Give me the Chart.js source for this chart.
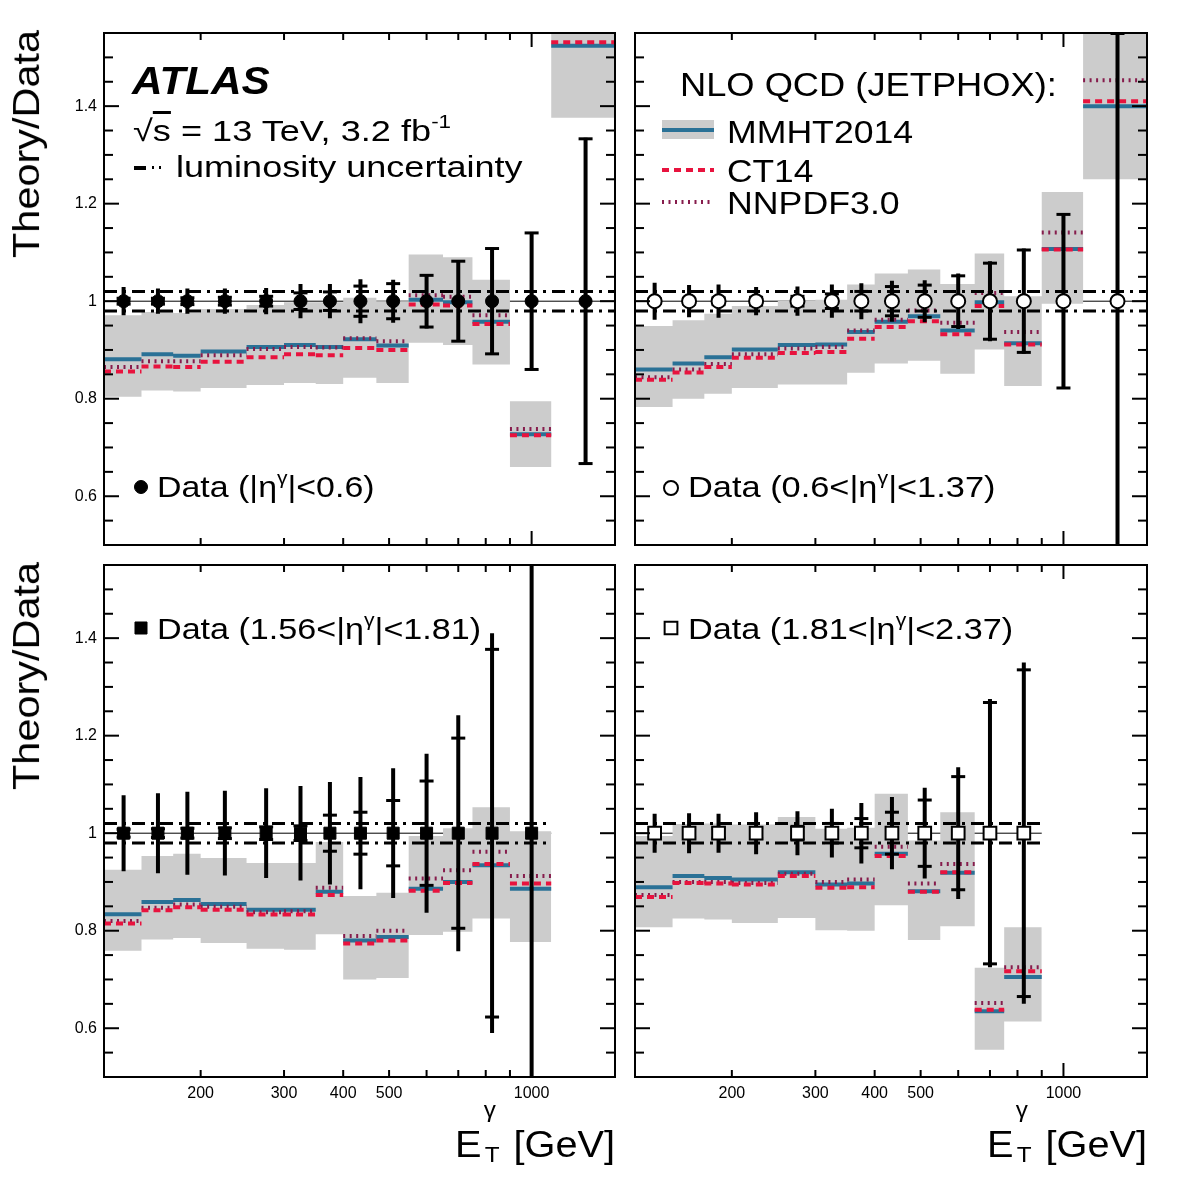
<!DOCTYPE html>
<html>
<head>
<meta charset="utf-8">
<script src="https://cdn.jsdelivr.net/npm/chart.js@4.4.1/dist/chart.umd.min.js"></script>
<style>
  body { margin: 0; background: #fff; }
  #wrap { position: relative; width: 1182px; height: 1182px; overflow: hidden;
          font-family: 'Liberation Sans', Arial, Helvetica, sans-serif; }
  canvas { position: absolute; left: 0; top: 0; }
  .t { position: absolute; white-space: nowrap; line-height: 1; color: #000; }
  .sup { position: relative; top: -0.7em; font-size: 0.62em; }
</style>
</head>
<body>
<div id="wrap"></div>
<script>
// bin edges / centres in E_T (GeV)
const etEdges = [125, 150, 175, 200, 250, 300, 350, 400, 470, 550, 650, 750, 900, 1100, 1500];
const etCenters = [137.5, 162.5, 187.5, 225, 275, 325, 375, 435, 510, 600, 700, 825, 1000, 1300];
const unity = 1;
const lumiLevels = [1.02, 0.98];

const yLabelTicks = [0.6, 0.8, 1, 1.2, 1.4];
const yMinorTicks = [0.55, 0.65, 0.7, 0.75, 0.85, 0.9, 0.95, 1.05, 1.1, 1.15, 1.25, 1.3, 1.35, 1.45, 1.5];
const xLabelTicks = [200, 300, 400, 500, 1000];
const xMinorTicks = [200, 300, 400, 500, 600, 700, 800, 900];
const xMajorTicks = [1000];

// |eta| < 0.6
const p1Mmht   = [0.881, 0.891, 0.888, 0.897, 0.906, 0.910, 0.906, 0.922, 0.909, 1.003, 0.998, 0.958, 0.727, 1.524];
const p1Ct14   = [0.856, 0.866, 0.865, 0.876, 0.885, 0.891, 0.889, 0.904, 0.900, 0.993, 0.991, 0.953, 0.725, 1.531];
const p1Nnpdf  = [0.865, 0.877, 0.877, 0.889, 0.902, 0.906, 0.905, 0.924, 0.918, 1.012, 1.009, 0.971, 0.738, 1.580];
const p1BandLo = [0.804, 0.817, 0.815, 0.822, 0.828, 0.832, 0.830, 0.843, 0.832, 0.915, 0.910, 0.870, 0.660, 1.376];
const p1BandHi = [0.971, 0.978, 0.976, 0.984, 0.992, 0.998, 0.998, 1.007, 1.000, 1.096, 1.090, 1.044, 0.795, 1.680];
const p1Stat   = [0.006, 0.006, 0.007, 0.008, 0.010, 0.017, 0.019, 0.031, 0.036, 0.053, 0.082, 0.108, 0.140, 0.333];
const p1Tot    = [0.029, 0.026, 0.026, 0.026, 0.027, 0.035, 0.035, 0.045, 0.044, 0.056, 0.083, 0.110, 0.142, 0.335];

// 0.6 < |eta| < 1.37
const p2Mmht   = [0.860, 0.872, 0.885, 0.901, 0.910, 0.911, 0.937, 0.958, 0.969, 0.940, 0.998, 0.914, 1.107, 1.400];
const p2Ct14   = [0.839, 0.854, 0.865, 0.884, 0.894, 0.896, 0.923, 0.947, 0.959, 0.932, 0.990, 0.911, 1.106, 1.410];
const p2Nnpdf  = [0.844, 0.860, 0.871, 0.891, 0.903, 0.906, 0.940, 0.962, 0.981, 0.956, 1.017, 0.937, 1.141, 1.453];
const p2BandLo = [0.783, 0.800, 0.810, 0.822, 0.829, 0.829, 0.853, 0.872, 0.878, 0.851, 0.901, 0.826, 0.995, 1.250];
const p2BandHi = [0.949, 0.961, 0.974, 0.990, 1.001, 1.003, 1.034, 1.057, 1.065, 1.035, 1.098, 1.010, 1.224, 1.600];
const p2Stat   = [0.005, 0.006, 0.007, 0.008, 0.010, 0.015, 0.020, 0.030, 0.033, 0.052, 0.078, 0.105, 0.178, 0.549];
const p2Tot    = [0.038, 0.033, 0.034, 0.029, 0.030, 0.034, 0.037, 0.042, 0.043, 0.057, 0.082, 0.108, 0.180, 0.600];

// 1.56 < |eta| < 1.81
const p3Mmht   = [0.834, 0.859, 0.863, 0.855, 0.843, 0.843, 0.880, 0.780, 0.787, 0.886, 0.900, 0.934, 0.886];
const p3Ct14   = [0.815, 0.842, 0.848, 0.843, 0.833, 0.833, 0.873, 0.774, 0.780, 0.882, 0.898, 0.937, 0.897];
const p3Nnpdf  = [0.820, 0.847, 0.854, 0.849, 0.838, 0.840, 0.888, 0.789, 0.800, 0.907, 0.924, 0.962, 0.912];
const p3BandLo = [0.759, 0.782, 0.785, 0.775, 0.763, 0.761, 0.793, 0.700, 0.703, 0.791, 0.798, 0.825, 0.777];
const p3BandHi = [0.925, 0.953, 0.958, 0.949, 0.939, 0.939, 0.982, 0.871, 0.878, 0.994, 1.010, 1.053, 1.004];
const p3Stat   = [0.008, 0.009, 0.010, 0.011, 0.013, 0.015, 0.037, 0.043, 0.067, 0.107, 0.195, 0.377, 0.600];
const p3Tot    = [0.078, 0.082, 0.085, 0.087, 0.092, 0.097, 0.105, 0.115, 0.133, 0.163, 0.242, 0.410, 0.650];

// 1.81 < |eta| < 2.37
const p4Mmht   = [0.889, 0.912, 0.908, 0.905, 0.920, 0.895, 0.897, 0.958, 0.881, 0.919, 0.635, 0.705];
const p4Ct14   = [0.869, 0.898, 0.897, 0.895, 0.912, 0.888, 0.889, 0.953, 0.880, 0.920, 0.638, 0.717];
const p4Nnpdf  = [0.873, 0.900, 0.900, 0.898, 0.917, 0.900, 0.905, 0.972, 0.897, 0.937, 0.652, 0.725];
const p4BandLo = [0.807, 0.825, 0.823, 0.816, 0.826, 0.801, 0.800, 0.852, 0.781, 0.809, 0.556, 0.614];
const p4BandHi = [0.994, 1.019, 1.020, 1.018, 1.033, 1.009, 1.011, 1.081, 0.985, 1.043, 0.724, 0.807];
const p4Stat   = [0.008, 0.009, 0.010, 0.011, 0.014, 0.020, 0.030, 0.043, 0.068, 0.116, 0.268, 0.335];
const p4Tot    = [0.040, 0.041, 0.040, 0.043, 0.045, 0.050, 0.062, 0.074, 0.093, 0.135, 0.275, 0.350];

const BLUE = '#2a7196';
const RED = '#e8133e';
const MAROON = '#861c4c';
const GREY = '#cccccc';
const FONT = "'Liberation Sans', Arial, Helvetica, sans-serif";

const markerStyles = {
  filledCircle: { pointStyle: 'circle', radius: 6.5, bg: '#000', bw: 1 },
  openCircle:   { pointStyle: 'circle', radius: 7, bg: '#fff', bw: 2 },
  filledSquare: { pointStyle: 'rect', radius: 8.5, bg: '#000', bw: 1 },
  openSquare:   { pointStyle: 'rect', radius: 9, bg: '#fff', bw: 2 }
};

function drawMarker(ctx, name, x, y) {
  const m = markerStyles[name];
  ctx.save();
  ctx.fillStyle = m.bg;
  ctx.strokeStyle = '#000';
  ctx.lineWidth = m.bw;
  Chart.helpers.drawPoint(ctx, { pointStyle: m.pointStyle, radius: m.radius, borderWidth: m.bw, rotation: 0 }, x, y);
  ctx.restore();
}

function hline(ctx, x1, x2, y, color, width, dash) {
  ctx.save();
  ctx.strokeStyle = color;
  ctx.lineWidth = width;
  ctx.setLineDash(dash || []);
  ctx.beginPath();
  ctx.moveTo(x1, y);
  ctx.lineTo(x2, y);
  ctx.stroke();
  ctx.restore();
}

const panels = [
  { mmht: p1Mmht, ct14: p1Ct14, nnpdf: p1Nnpdf, lo: p1BandLo, hi: p1BandHi, stat: p1Stat, tot: p1Tot,
    marker: 'filledCircle', box: { l: 104, r: 615, t: 33, b: 545 }, yLabels: true, xLabels: false,
    notes(ctx) {
      hline(ctx, 134, 146, 168, '#000', 4);
      ctx.fillStyle = '#000';
      ctx.fillRect(152, 166, 2, 3);
      ctx.fillRect(159, 166, 2, 3);
      drawMarker(ctx, 'filledCircle', 141, 487);
    } },
  { mmht: p2Mmht, ct14: p2Ct14, nnpdf: p2Nnpdf, lo: p2BandLo, hi: p2BandHi, stat: p2Stat, tot: p2Tot,
    marker: 'openCircle', box: { l: 635, r: 1147, t: 33, b: 545 }, yLabels: false, xLabels: false,
    notes(ctx) {
      ctx.fillStyle = GREY;
      ctx.fillRect(662, 120, 52, 19);
      hline(ctx, 662, 714, 130, BLUE, 4);
      hline(ctx, 662, 714, 170, RED, 4, [7, 5]);
      hline(ctx, 662, 714, 202, MAROON, 4, [2, 4.5]);
      drawMarker(ctx, 'openCircle', 671, 488);
    } },
  { mmht: p3Mmht, ct14: p3Ct14, nnpdf: p3Nnpdf, lo: p3BandLo, hi: p3BandHi, stat: p3Stat, tot: p3Tot,
    marker: 'filledSquare', box: { l: 104, r: 615, t: 565, b: 1077 }, yLabels: true, xLabels: true,
    notes(ctx) { drawMarker(ctx, 'filledSquare', 141, 628); } },
  { mmht: p4Mmht, ct14: p4Ct14, nnpdf: p4Nnpdf, lo: p4BandLo, hi: p4BandHi, stat: p4Stat, tot: p4Tot,
    marker: 'openSquare', box: { l: 635, r: 1147, t: 565, b: 1077 }, yLabels: false, xLabels: true,
    notes(ctx) { drawMarker(ctx, 'openSquare', 671, 628); } }
];

// horizontal theory segments, one per bin, broken between bins
function binSegments(vals) {
  const pts = [];
  vals.forEach((v, i) => {
    pts.push({ x: etEdges[i], y: v }, { x: etEdges[i + 1], y: v }, { x: etEdges[i + 1], y: null });
  });
  return pts;
}

// stepped outline of the uncertainty band
function binSteps(vals) {
  const pts = vals.map((v, i) => ({ x: etEdges[i], y: v }));
  pts.push({ x: etEdges[vals.length], y: vals[vals.length - 1] });
  return pts;
}

function errorBars(tot) {
  const pts = [];
  tot.forEach((e, i) => {
    pts.push({ x: etCenters[i], y: unity - e }, { x: etCenters[i], y: unity + e }, { x: etCenters[i], y: null });
  });
  return pts;
}

function statCaps(stat) {
  const pts = [];
  stat.forEach((e, i) => pts.push({ x: etCenters[i], y: unity - e }, { x: etCenters[i], y: unity + e }));
  return pts;
}

const framePlugin = {
  id: 'frame',
  afterDraw(chart) {
    const { ctx, chartArea: a, scales: { x, y } } = chart;
    ctx.save();
    ctx.strokeStyle = '#000';
    ctx.lineWidth = 2;
    const tick = (x1, y1, x2, y2) => { ctx.beginPath(); ctx.moveTo(x1, y1); ctx.lineTo(x2, y2); ctx.stroke(); };
    yLabelTicks.forEach(v => { const p = y.getPixelForValue(v); tick(a.left, p, a.left + 15, p); tick(a.right, p, a.right - 15, p); });
    yMinorTicks.forEach(v => { const p = y.getPixelForValue(v); tick(a.left, p, a.left + 9, p); tick(a.right, p, a.right - 9, p); });
    xMinorTicks.forEach(v => { const p = x.getPixelForValue(v); tick(p, a.top, p, a.top + 7); tick(p, a.bottom, p, a.bottom - 7); });
    xMajorTicks.forEach(v => { const p = x.getPixelForValue(v); tick(p, a.top, p, a.top + 14); tick(p, a.bottom, p, a.bottom - 14); });
    ctx.strokeRect(a.left, a.top, a.right - a.left, a.bottom - a.top);
    ctx.restore();
  }
};

const wrap = document.getElementById('wrap');

panels.forEach(p => {
  const canvas = document.createElement('canvas');
  canvas.width = 1182;
  canvas.height = 1182;
  wrap.appendChild(canvas);
  const n = p.mmht.length;
  const m = markerStyles[p.marker];

  new Chart(canvas, {
    type: 'line',
    data: {
      datasets: [
        { label: 'data', data: etCenters.slice(0, n).map(x => ({ x, y: unity })), showLine: false,
          pointStyle: m.pointStyle, pointRadius: m.radius, pointBackgroundColor: m.bg,
          pointBorderColor: '#000', pointBorderWidth: m.bw, order: 0 },
        { label: 'stat', data: statCaps(p.stat), showLine: false, pointStyle: 'line', pointRadius: 7,
          pointBorderColor: '#000', pointBorderWidth: 3, order: 1 },
        { label: 'total', data: errorBars(p.tot), borderColor: '#000', borderWidth: 4, pointRadius: 0, order: 2 },
        { label: 'lumiUp', data: [{ x: etEdges[0], y: lumiLevels[0] }, { x: etEdges[n], y: lumiLevels[0] }],
          borderColor: '#000', borderWidth: 3, borderDash: [13, 6, 3, 6], pointRadius: 0, order: 3 },
        { label: 'lumiDown', data: [{ x: etEdges[0], y: lumiLevels[1] }, { x: etEdges[n], y: lumiLevels[1] }],
          borderColor: '#000', borderWidth: 3, borderDash: [13, 6, 3, 6], pointRadius: 0, order: 3 },
        { label: 'CT14', data: binSegments(p.ct14), borderColor: RED, borderWidth: 4, borderDash: [7, 5],
          pointRadius: 0, order: 4 },
        { label: 'NNPDF3.0', data: binSegments(p.nnpdf), borderColor: MAROON, borderWidth: 4, borderDash: [2, 4.5],
          pointRadius: 0, order: 5 },
        { label: 'MMHT2014', data: binSegments(p.mmht), borderColor: BLUE, borderWidth: 4, pointRadius: 0, order: 6 },
        { label: 'bandUp', data: binSteps(p.hi), stepped: true, borderWidth: 0, borderColor: 'rgba(0,0,0,0)',
          pointRadius: 0, fill: '+1', backgroundColor: GREY, order: 7 },
        { label: 'bandDown', data: binSteps(p.lo), stepped: true, borderWidth: 0, borderColor: 'rgba(0,0,0,0)',
          pointRadius: 0, fill: false, order: 8 },
        { label: 'unity', data: [{ x: etEdges[0], y: unity }, { x: etEdges[n], y: unity }],
          borderColor: '#000', borderWidth: 1, pointRadius: 0, order: 9 }
      ]
    },
    options: {
      responsive: false,
      animation: false,
      devicePixelRatio: 1,
      events: [],
      layout: {
        padding: {
          left: p.yLabels ? p.box.l - 60 : p.box.l,
          right: 1182 - p.box.r,
          top: p.box.t,
          bottom: 1182 - p.box.b - (p.xLabels ? 30 : 0)
        }
      },
      plugins: { legend: { display: false }, tooltip: { enabled: false } },
      scales: {
        x: {
          type: 'logarithmic', min: 125, max: 1500, display: p.xLabels,
          grid: { display: false, drawTicks: false }, border: { display: false },
          afterBuildTicks: s => { s.ticks = xLabelTicks.map(v => ({ value: v })); },
          afterFit: s => { s.height = p.xLabels ? 30 : 0; },
          ticks: { callback: v => String(v), color: '#000', font: { family: FONT, size: 16 },
                   padding: 7, maxRotation: 0, autoSkip: false }
        },
        y: {
          type: 'linear', min: 0.5, max: 1.55, display: p.yLabels,
          grid: { display: false, drawTicks: false }, border: { display: false },
          afterBuildTicks: s => { s.ticks = yLabelTicks.map(v => ({ value: v })); },
          afterFit: s => { s.width = p.yLabels ? 60 : 0; },
          ticks: { callback: v => String(v), color: '#000', font: { family: FONT, size: 16 }, padding: 7 }
        }
      }
    },
    plugins: [framePlugin, { id: 'notes', afterDraw(chart) { p.notes(chart.ctx); } }]
  });
});

// annotation text as HTML, stretched to the widths seen in the figure
const eT = 'E<span style="display:inline-block;position:relative;width:19px;height:0">' +
  '<span style="position:absolute;left:2px;top:-58px;font-size:22px">γ</span>' +
  '<span style="position:absolute;left:3px;top:-13px;font-size:22px">T</span></span> [GeV]';
const etaG = 'η<span class="sup">γ</span>';

const texts = [
  { html: 'ATLAS', x: 132, y: 94, f: 38, w: 138, bold: true, italic: true },
  { html: '√<span style="text-decoration:overline">s</span> = 13 TeV, 3.2 fb<span class="sup">-1</span>', x: 133, y: 141, f: 30, w: 318 },
  { html: 'luminosity uncertainty', x: 176, y: 177, f: 30, w: 346 },
  { html: 'Data (|' + etaG + '|&lt;0.6)', x: 157, y: 497, f: 30, w: 217 },
  { html: 'NLO QCD (JETPHOX):', x: 680, y: 96, f: 33, w: 377 },
  { html: 'MMHT2014', x: 727, y: 143, f: 32, w: 186 },
  { html: 'CT14', x: 727, y: 182, f: 32, w: 86 },
  { html: 'NNPDF3.0', x: 727, y: 214, f: 32, w: 173 },
  { html: 'Data (0.6&lt;|' + etaG + '|&lt;1.37)', x: 688, y: 497, f: 30, w: 307 },
  { html: 'Data (1.56&lt;|' + etaG + '|&lt;1.81)', x: 157, y: 639, f: 30, w: 324 },
  { html: 'Data (1.81&lt;|' + etaG + '|&lt;2.37)', x: 688, y: 639, f: 30, w: 325 },
  { html: 'Theory/Data', x: 27, y: 144, f: 36, w: 228, rot: true },
  { html: 'Theory/Data', x: 27, y: 676, f: 36, w: 228, rot: true },
  { html: eT, x: 615, y: 1157, f: 36, w: 160, align: 'right' },
  { html: eT, x: 1147, y: 1157, f: 36, w: 160, align: 'right' }
];

texts.forEach(s => {
  const d = document.createElement('div');
  d.className = 't';
  d.innerHTML = s.html;
  d.style.fontSize = s.f + 'px';
  if (s.bold) d.style.fontWeight = 'bold';
  if (s.italic) d.style.fontStyle = 'italic';
  d.style.left = '0px';
  d.style.top = '0px';
  wrap.appendChild(d);
  const w0 = d.offsetWidth, h0 = d.offsetHeight;
  const k = s.w / w0;
  if (s.rot) {
    d.style.left = (s.x - w0 / 2) + 'px';
    d.style.top = (s.y - h0 / 2) + 'px';
    d.style.transform = 'rotate(-90deg) scaleX(' + k + ')';
  } else {
    d.style.left = (s.align === 'right' ? s.x - s.w : s.x) + 'px';
    d.style.top = (s.y - 0.8465 * s.f) + 'px';
    d.style.transformOrigin = '0 0';
    d.style.transform = 'scaleX(' + k + ')';
  }
});
</script>
</body>
</html>
